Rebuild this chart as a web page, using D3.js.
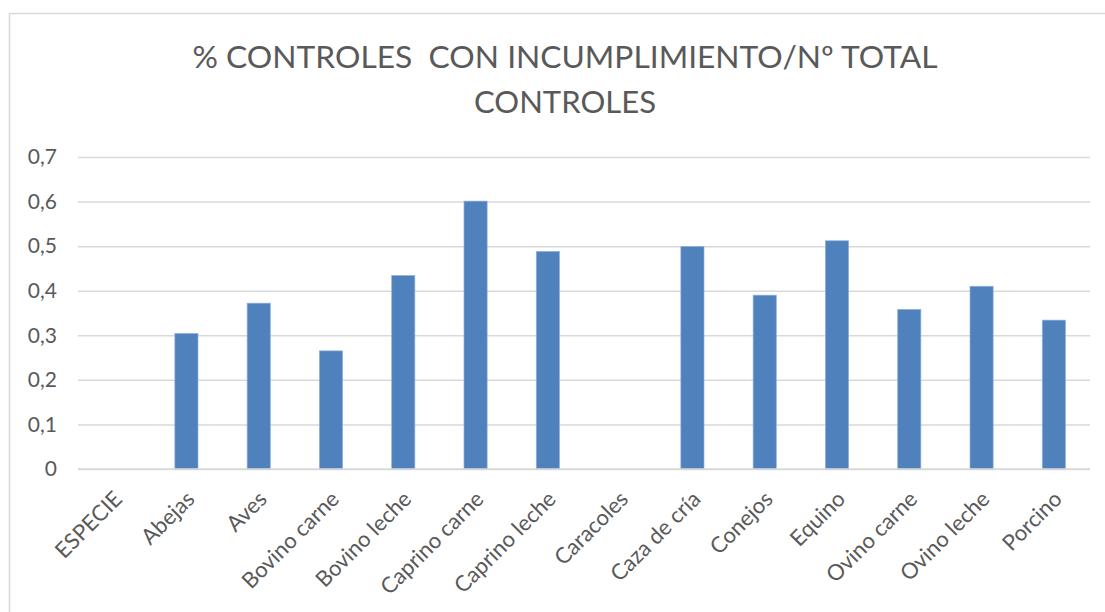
<!DOCTYPE html>
<html>
<head>
<meta charset="utf-8">
<script src="https://cdn.jsdelivr.net/npm/d3@7"></script>
<style>
  html, body { margin: 0; padding: 0; background: #fff; }
  svg text { font-family: Lato, "Open Sans", sans-serif; fill: #595959; }
  .title { white-space: pre; }
</style>
</head>
<body>
<svg id="chart" width="1105" height="612"></svg>
<script>
// % controles con incumplimiento / nº total controles, por especie

const especies = [
  'ESPECIE', 'Abejas', 'Aves', 'Bovino carne', 'Bovino leche', 'Caprino carne',
  'Caprino leche', 'Caracoles', 'Caza de cría', 'Conejos', 'Equino',
  'Ovino carne', 'Ovino leche', 'Porcino',
];
const valores = [
  null, 0.304, 0.372, 0.265, 0.434, 0.601,
  0.488, null, 0.499, 0.390, 0.512,
  0.358, 0.410, 0.334,
];
const yTicks = [0, 0.1, 0.2, 0.3, 0.4, 0.5, 0.6, 0.7];
const titulo = ['% CONTROLES  CON INCUMPLIMIENTO/Nº TOTAL', 'CONTROLES'];

const svg = d3.select('#chart');
const margin = { top: 157, right: 15, bottom: 143, left: 78 };
const width = 1105 - margin.left - margin.right;
const height = 612 - margin.top - margin.bottom;

// marco del gráfico
svg.append('rect')
  .attr('x', 9.5).attr('y', 13.5)
  .attr('width', 1105).attr('height', 612)
  .attr('fill', 'none')
  .attr('stroke', '#d9d9d9')
  .attr('stroke-width', 1.5);

svg.selectAll('.title')
  .data(titulo)
  .join('text')
  .attr('class', 'title')
  .attr('x', 565)
  .attr('y', (d, i) => 68 + i * 45)
  .attr('text-anchor', 'middle')
  .attr('font-size', 31)
  .attr('textLength', (d, i) => (i === 0 ? 745 : 182))
  .attr('lengthAdjust', 'spacingAndGlyphs')
  .text(d => d);

const g = svg.append('g').attr('transform', `translate(${margin.left},${margin.top})`);

const x = d3.scaleBand().domain(especies).range([0, width]).paddingInner(0.68).paddingOuter(0.34);
const y = d3.scaleLinear().domain([0, 0.7]).range([height, 0]);

const fmt = v => d3.format('.1f')(v).replace('.', ',').replace(/^0,0$/, '0');

const yAxis = d3.axisLeft(y)
  .tickValues(yTicks)
  .tickSize(-width)
  .tickFormat(fmt);

g.append('g')
  .attr('class', 'y-axis')
  .call(yAxis)
  .call(sel => sel.select('.domain').remove())
  .call(sel => sel.selectAll('.tick line').attr('stroke', '#d9d9d9').attr('stroke-width', 1.5))
  .call(sel => sel.selectAll('.tick text')
    .attr('x', -21)
    .attr('font-size', 21)
    .attr('fill', '#595959'));

g.selectAll('.bar')
  .data(especies.map((e, i) => ({ especie: e, valor: valores[i] })).filter(d => d.valor != null))
  .join('rect')
  .attr('class', 'bar')
  .attr('x', d => x(d.especie))
  .attr('y', d => y(d.valor))
  .attr('width', x.bandwidth())
  .attr('height', d => height - y(d.valor))
  .attr('fill', '#4f81bd')
  .attr('stroke', '#8eaedb')
  .attr('stroke-width', 0.7);

// línea base
g.append('line')
  .attr('x1', 0).attr('x2', width)
  .attr('y1', height).attr('y2', height)
  .attr('stroke', '#d9d9d9')
  .attr('stroke-width', 1.5);

const xAxis = d3.axisBottom(x).tickSize(0);
g.append('g')
  .attr('class', 'x-axis')
  .attr('transform', `translate(0,${height})`)
  .call(xAxis)
  .call(sel => sel.select('.domain').remove())
  .call(sel => sel.selectAll('.tick text')
    .attr('font-size', 22)
    .attr('fill', '#595959')
    .attr('text-anchor', 'end')
    .attr('x', 0)
    .attr('y', 0)
    .attr('dy', '0.35em')
    .attr('transform', 'translate(4,26) rotate(-45)'));
</script>
</body>
</html>
